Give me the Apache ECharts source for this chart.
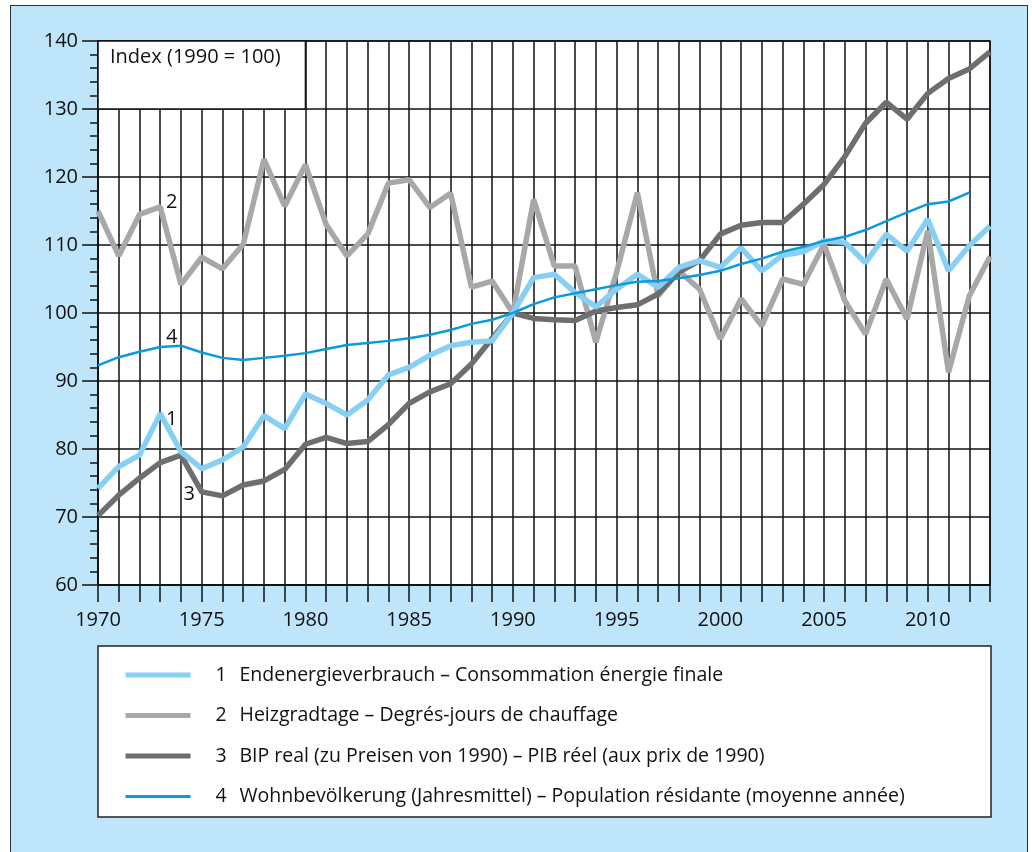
<!DOCTYPE html>
<html>
<head>
<meta charset="utf-8">
<script src="https://cdn.jsdelivr.net/npm/echarts@6/dist/echarts.min.js"></script>
<style>
  body { margin: 0; background: #fff; overflow: hidden; }
  #panel { position: absolute; left: 10px; top: 5px; width: 1016px; height: 900px;
           background: #bee5f9; border: 1.5px solid #333; }
  #main { position: absolute; left: 0; top: 0; width: 1032px; height: 852px; }
</style>
</head>
<body>
<div id="panel"></div>
<div id="main"></div>
<script>
var years = [1970, 1971, 1972, 1973, 1974, 1975, 1976, 1977, 1978, 1979,
  1980, 1981, 1982, 1983, 1984, 1985, 1986, 1987, 1988, 1989,
  1990, 1991, 1992, 1993, 1994, 1995, 1996, 1997, 1998, 1999,
  2000, 2001, 2002, 2003, 2004, 2005, 2006, 2007, 2008, 2009,
  2010, 2011, 2012, 2013];

// 1 Endenergieverbrauch
var energy = [74.2, 77.4, 79.1, 85.2, 79.6, 77.1, 78.4, 80.3, 84.9, 83.0,
  88.1, 86.7, 85.0, 87.2, 90.9, 92.0, 93.8, 95.2, 95.7, 95.9,
  100, 105.2, 105.7, 103.0, 100.9, 103.5, 105.7, 103.8, 106.7, 107.7,
  106.7, 109.6, 106.2, 108.5, 109.0, 110.6, 110.4, 107.4, 111.6, 109.1,
  113.8, 106.2, 109.9, 112.8];
// 2 Heizgradtage
var heating = [115.0, 108.4, 114.5, 115.6, 104.2, 108.2, 106.5, 110.1, 122.6, 115.7,
  121.8, 113.0, 108.4, 111.6, 119.1, 119.6, 115.5, 117.6, 103.8, 104.7,
  100, 116.7, 106.9, 106.9, 95.7, 106.0, 117.7, 102.5, 106.2, 103.5,
  96.2, 102.1, 98.1, 105.0, 104.2, 110.1, 101.8, 96.9, 105.0, 99.1,
  112.1, 91.3, 102.5, 108.3];
// 3 BIP real
var gdp = [70.2, 73.2, 75.7, 78.0, 79.1, 73.7, 73.1, 74.7, 75.3, 77.0,
  80.7, 81.7, 80.8, 81.1, 83.6, 86.7, 88.4, 89.6, 92.5, 96.3,
  100, 99.2, 99.0, 98.9, 100.3, 100.8, 101.2, 102.8, 106.0, 107.7,
  111.6, 112.9, 113.3, 113.3, 116.0, 118.9, 123.0, 127.9, 131.0, 128.5,
  132.3, 134.5, 135.9, 138.4];
// 4 Wohnbevölkerung (no value for 2013)
var population = [92.3, 93.5, 94.3, 95.0, 95.2, 94.2, 93.4, 93.1, 93.4, 93.7,
  94.1, 94.7, 95.3, 95.6, 95.9, 96.3, 96.8, 97.5, 98.4, 99.0,
  100, 101.3, 102.3, 102.9, 103.5, 104.1, 104.6, 104.7, 105.1, 105.6,
  106.2, 107.2, 108.0, 109.0, 109.7, 110.6, 111.2, 112.2, 113.5, 114.8,
  116.0, 116.4, 117.7, null];

var names = [
  'Endenergieverbrauch – Consommation énergie finale',
  'Heizgradtage – Degrés-jours de chauffage',
  'BIP real (zu Preisen von 1990) – PIB réel (aux prix de 1990)',
  'Wohnbevölkerung (Jahresmittel) – Population résidante (moyenne année)'
];
var numbers = ['1', '2', '3', '4'];
var legendWidths = [5, 5, 5, 3];
// where the small numbers sit next to the lines [year, value]
var labelPos = [[1973.55, 84.3], [1973.55, 116.3], [1974.4, 73.4], [1973.55, 96.5]];

var font = 'Open Sans';

function pairs(vals) {
  return years.map(function (y, i) { return [y, vals[i]]; });
}

function numLabel(i) {
  return {
    silent: true,
    symbol: 'circle',
    symbolSize: 0,
    label: { show: true, formatter: numbers[i], color: '#111', fontSize: 20,
             fontFamily: font, position: 'inside' },
    data: [{ coord: labelPos[i] }]
  };
}

var chart = echarts.init(document.getElementById('main'));

var option = {
  backgroundColor: 'transparent',
  animation: false,
  textStyle: { fontFamily: font },
  grid: {
    left: 98, top: 41, right: 42, bottom: 267,
    show: true, backgroundColor: '#fff', borderColor: '#111', borderWidth: 1.5
  },
  xAxis: {
    type: 'value', min: 1970, max: 2013, interval: 1,
    axisLine: { lineStyle: { color: '#111', width: 1.5 } },
    axisTick: { length: 17, lineStyle: { color: '#111', width: 1.5 } },
    axisLabel: {
      margin: 25, color: '#111', fontSize: 20, fontFamily: font,
      formatter: function (v) { return v % 5 === 0 ? String(v) : ''; }
    },
    splitLine: { show: true, lineStyle: { color: '#111', width: 1.5 } }
  },
  yAxis: {
    type: 'value', min: 60, max: 140, interval: 10,
    axisLine: { show: true, lineStyle: { color: '#111', width: 1.5 } },
    axisTick: { show: true, length: 16, lineStyle: { color: '#111', width: 1.5 } },
    minorTick: { show: true, splitNumber: 5, length: 8, lineStyle: { color: '#111', width: 1.5 } },
    axisLabel: { margin: 20, color: '#111', fontSize: 20, fontFamily: font },
    splitLine: { show: true, lineStyle: { color: '#111', width: 1.5 } }
  },
  legend: {
    orient: 'vertical', left: 118, top: 660,
    itemWidth: 65, itemHeight: 20, itemGap: 20.5,
    data: names.map(function (n, i) {
      return { name: n, itemStyle: { opacity: 0 }, lineStyle: { width: legendWidths[i] } };
    }),
    selectedMode: false,
    formatter: function (name) {
      return '{n|' + numbers[names.indexOf(name)] + '}{t|' + name + '}';
    },
    textStyle: {
      color: '#111', fontSize: 19.5, fontFamily: font,
      rich: {
        n: { width: 24, padding: [0, 0, 0, 20], fontSize: 19.5, fontFamily: font, color: '#111' },
        t: { fontSize: 19.5, fontFamily: font, color: '#111' }
      }
    }
  },
  graphic: [{
    type: 'rect', z: -1,
    shape: { x: 98, y: 646, width: 893, height: 171 },
    style: { fill: '#fff', stroke: '#222', lineWidth: 1.5 }
  }, {
    type: 'text', left: 110, top: 47, z: 10,
    style: { text: 'Index (1990 = 100)', fontSize: 20, fontFamily: font, fill: '#111' }
  }],
  series: [{
    name: names[1], type: 'line', symbol: 'none', data: pairs(heating),
    lineStyle: { color: '#a8a8a8', width: 5.5 }, itemStyle: { color: '#a8a8a8' },
    markArea: {
      silent: true,
      itemStyle: { color: '#fff', opacity: 1, borderColor: '#111', borderWidth: 1.5 },
      data: [[{ coord: [1970, 140] }, { coord: [1980, 130] }]]
    },
    markPoint: numLabel(1)
  }, {
    name: names[2], type: 'line', symbol: 'none', data: pairs(gdp),
    lineStyle: { color: '#6e6e6e', width: 5.5 }, itemStyle: { color: '#6e6e6e' },
    markPoint: numLabel(2)
  }, {
    name: names[0], type: 'line', symbol: 'none', data: pairs(energy),
    lineStyle: { color: '#88cff4', width: 5.5 }, itemStyle: { color: '#88cff4' },
    markPoint: numLabel(0)
  }, {
    name: names[3], type: 'line', symbol: 'none', data: pairs(population),
    lineStyle: { color: '#0a9ade', width: 2.5 }, itemStyle: { color: '#0a9ade' },
    markPoint: numLabel(3)
  }]
};

chart.setOption(option);
</script>
</body>
</html>
